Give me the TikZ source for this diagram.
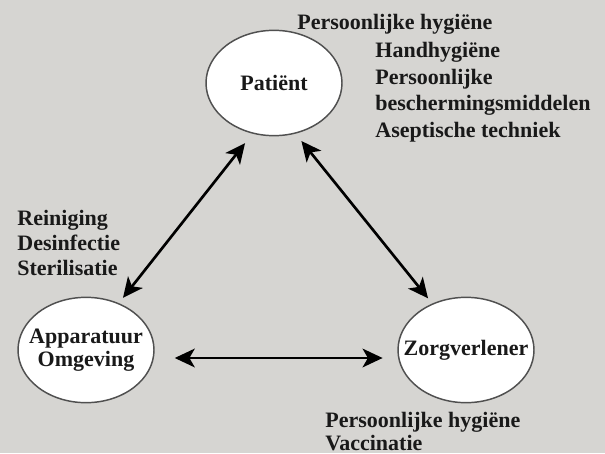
\documentclass[tikz,border=0pt]{standalone}
\usepackage{fontspec}
\setmainfont{Liberation Serif}
\usetikzlibrary{positioning, arrows.meta, shapes.geometric}

\definecolor{scanbg}{RGB}{214,213,210}
\definecolor{inkgray}{RGB}{25,25,25}
\definecolor{rimgray}{RGB}{80,80,80}

\begin{document}
\begin{tikzpicture}[x=0.75pt, y=-0.75pt, >={Stealth[length=15pt, width=14pt, inset=4pt]}, on grid, semithick]
  % Styles
  \tikzstyle{every node}=[font=\fontsize{16.5}{19.5}\selectfont\bfseries, text=inkgray]
  \tikzstyle{party}=[ellipse, draw=rimgray, line width=1.1pt, fill=white, minimum width=102pt, minimum height=79pt, inner xsep=-12pt, inner ysep=0pt, align=center]
  \tikzset{measures/.style={align=left, anchor=base west, inner sep=0pt}}
  \tikzset{link/.style={<->, draw=black, line width=2pt}}

  % Background
  \fill[scanbg] (0,0) rectangle (605,453);
  \useasboundingbox (0,0) rectangle (605,453);

  % --- Nodes ---
  \node[party] (Patient) at (274,83) {Patiënt};
  \node[party, font=\fontsize{16.5}{17.5}\selectfont\bfseries] (Apparatuur) [below left=200.25pt and 141pt of Patient] {Apparatuur\\Omgeving};
  \node[party] (Zorg) [right=285pt of Apparatuur] {Zorgverlener};

  % Measures per party (base = last line)
  \node[measures] (PatientTop) at ([shift={(23,-53)}]Patient.center) {Persoonlijke hygiëne};
  \node[measures, font=\fontsize{16.5}{19.8}\selectfont\bfseries] (PatientList) at ([shift={(101,54)}]Patient.center) {Handhygiëne\\Persoonlijke\\beschermingsmiddelen\\Aseptische techniek};
  \node[measures, font=\fontsize{16.5}{18.75}\selectfont\bfseries] (ApparatuurList) at ([shift={(-69,-75)}]Apparatuur.center) {Reiniging\\Desinfectie\\Sterilisatie};
  \node[measures, font=\fontsize{16.5}{17.25}\selectfont\bfseries] (ZorgList) at ([shift={(-141,100)}]Zorg.center) {Persoonlijke hygiëne\\Vaccinatie};

  % --- Transitions ---
  \draw[link, shorten <=9pt, shorten >=5pt] (Patient.247) -- (Apparatuur.55);
  \draw[link, shorten <=7pt, shorten >=5pt] (Patient.293) -- (Zorg.126);
  \draw[link, shorten <=15pt, shorten >=11pt] ([yshift=-6pt]Apparatuur.east) -- ([yshift=-6pt]Zorg.west);

\end{tikzpicture}
\end{document}
